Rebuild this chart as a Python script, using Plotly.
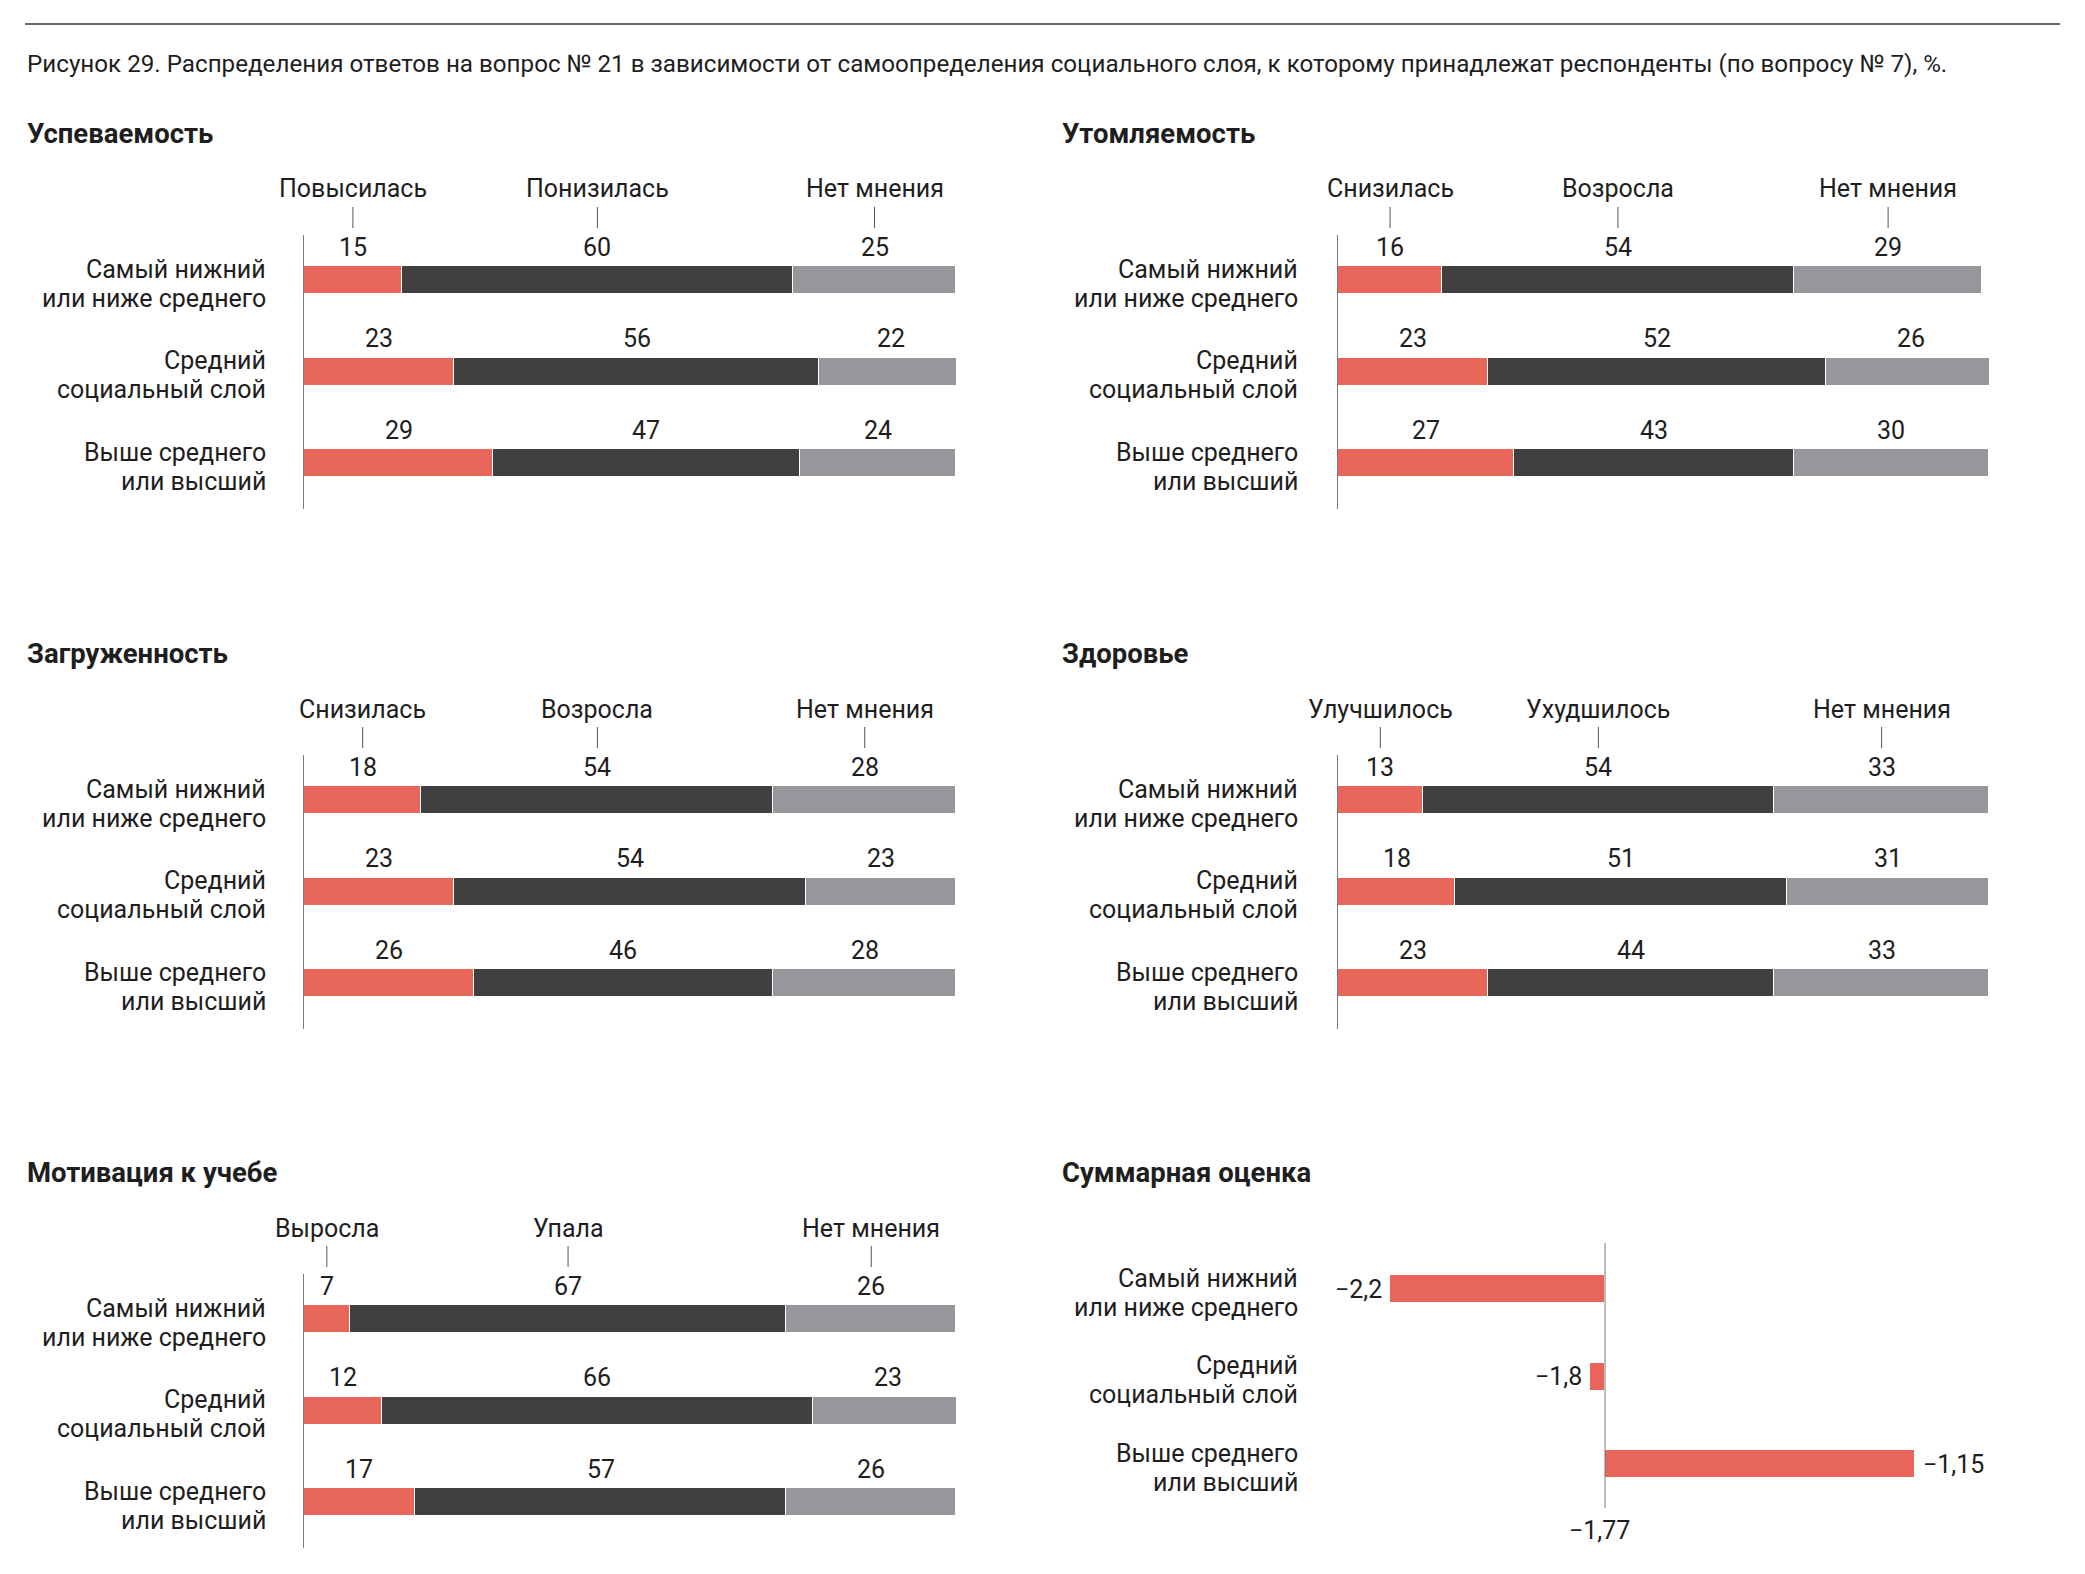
import plotly.graph_objects as go

W, H = 2085, 1574

# ---------------- data ----------------
categories = ["Самый нижний<br>или ниже среднего",
              "Средний<br>социальный слой",
              "Выше среднего<br>или высший"]

caption = ("Рисунок 29. Распределения ответов на вопрос № 21 в зависимости от самоопределения "
           "социального слоя, к которому принадлежат респонденты (по вопросу № 7), %.")

uspev_title = "Успеваемость"
uspev_answers = ["Повысилась", "Понизилась", "Нет мнения"]
uspev_first = [15, 23, 29]
uspev_second = [60, 56, 47]
uspev_none = [25, 22, 24]

utoml_title = "Утомляемость"
utoml_answers = ["Снизилась", "Возросла", "Нет мнения"]
utoml_first = [16, 23, 27]
utoml_second = [54, 52, 43]
utoml_none = [29, 26, 30]

zagr_title = "Загруженность"
zagr_answers = ["Снизилась", "Возросла", "Нет мнения"]
zagr_first = [18, 23, 26]
zagr_second = [54, 54, 46]
zagr_none = [28, 23, 28]

zdor_title = "Здоровье"
zdor_answers = ["Улучшилось", "Ухудшилось", "Нет мнения"]
zdor_first = [13, 18, 23]
zdor_second = [54, 51, 44]
zdor_none = [33, 31, 33]

motiv_title = "Мотивация к учебе"
motiv_answers = ["Выросла", "Упала", "Нет мнения"]
motiv_first = [7, 12, 17]
motiv_second = [67, 66, 57]
motiv_none = [26, 23, 26]

summ_title = "Суммарная оценка"
summ_values = [-2.2, -1.8, -1.15]
summ_baseline = -1.77

# ---------------- style ----------------
FONT = "Roboto, 'Noto Sans', sans-serif"
TXT = "#1e1e1e"
RED = "#E8665A"
DARK = "#404040"
GRAY = "#97979B"
AXIS = "#7a7a7a"
seg_colors = [RED, DARK, GRAY]
FS = 25
FS_TITLE = 27.5


def px(x):
    return x / W


def py(y):
    return 1 - y / H


fig = go.Figure()
annotations = []
shapes = []

# top rule and caption
shapes.append(dict(type="line", xref="paper", yref="paper", x0=px(25), x1=px(2060),
                   y0=py(24), y1=py(24), line=dict(color="#333333", width=1.5)))
annotations.append(dict(text=caption, xref="paper", yref="paper", x=px(25), y=py(64),
                        xanchor="left", yanchor="middle", showarrow=False,
                        font=dict(size=24.2, color=TXT, family=FONT)))

# panel geometry (pixels)
col_geo = {
    "L": dict(title_x=25, label_r=268, ax0=304, ax1=956),
    "R": dict(title_x=1060, label_r=1300, ax0=1338, ax1=1989),
}
row_offsets = [0, 520, 1039]

stacked_panels = [
    ("L", 0, uspev_title, uspev_answers, [uspev_first, uspev_second, uspev_none]),
    ("R", 0, utoml_title, utoml_answers, [utoml_first, utoml_second, utoml_none]),
    ("L", 1, zagr_title, zagr_answers, [zagr_first, zagr_second, zagr_none]),
    ("R", 1, zdor_title, zdor_answers, [zdor_first, zdor_second, zdor_none]),
    ("L", 2, motiv_title, motiv_answers, [motiv_first, motiv_second, motiv_none]),
]

rows_idx = [0, 1, 2]
layout_axes = {}


def add_category_labels(x_right, ya):
    for r in rows_idx:
        line1, line2 = categories[r].split("<br>")
        for txt, shift in ((line1, 11), (line2, -18)):
            annotations.append(dict(text=txt, xref="paper", yref=ya,
                                    x=px(x_right), y=r, yshift=shift,
                                    xanchor="right", yanchor="middle", align="right",
                                    showarrow=False,
                                    font=dict(size=FS, color=TXT, family=FONT)))


for i, (col, prow, title, answers, series) in enumerate(stacked_panels, start=1):
    g = col_geo[col]
    off = row_offsets[prow]
    top, bottom = 235 + off, 509 + off
    r0, sp = 280 + off, 91.7
    xa = "x" if i == 1 else f"x{i}"
    ya = "y" if i == 1 else f"y{i}"
    xkey = "xaxis" if i == 1 else f"xaxis{i}"
    ykey = "yaxis" if i == 1 else f"yaxis{i}"

    for k, vals in enumerate(series):
        fig.add_trace(go.Bar(
            x=vals, y=rows_idx, orientation="h", xaxis=xa, yaxis=ya,
            marker=dict(color=seg_colors[k], line=dict(color="white", width=1.5)),
            width=28 / sp, showlegend=False, hoverinfo="skip"))

    layout_axes[xkey] = dict(domain=[px(g["ax0"]), px(g["ax1"])], range=[0, 100],
                             visible=False, fixedrange=True, anchor=ya)
    layout_axes[ykey] = dict(domain=[py(bottom), py(top)],
                             range=[2 + (bottom - (r0 + 2 * sp)) / sp, -(r0 - top) / sp],
                             showline=True, linecolor=AXIS, linewidth=1,
                             showticklabels=False, ticks="", showgrid=False,
                             zeroline=False, fixedrange=True, anchor=xa)

    # value labels centred on each segment
    for r in rows_idx:
        cum = 0
        for k, vals in enumerate(series):
            v = vals[r]
            annotations.append(dict(text=str(v), xref=xa, yref=ya, x=cum + v / 2, y=r,
                                    yshift=33, xanchor="center", yanchor="middle",
                                    showarrow=False,
                                    font=dict(size=FS, color=TXT, family=FONT)))
            cum += v

    # answer headers with tick lines above first row segments
    cum = 0
    for k, vals in enumerate(series):
        c = cum + vals[0] / 2
        cum += vals[0]
        annotations.append(dict(text=answers[k], xref=xa, yref="paper", x=c, y=py(189 + off),
                                xanchor="center", yanchor="middle", showarrow=False,
                                font=dict(size=FS, color=TXT, family=FONT)))
        shapes.append(dict(type="line", xref=xa, yref="paper", x0=c, x1=c,
                           y0=py(207 + off), y1=py(228 + off),
                           line=dict(color="#555555", width=1)))

    add_category_labels(g["label_r"], ya)

    # panel title
    annotations.append(dict(text=f"<b>{title}</b>", xref="paper", yref="paper",
                            x=px(g["title_x"]), y=py(133 + off), xanchor="left",
                            yanchor="middle", showarrow=False,
                            font=dict(size=FS_TITLE, color=TXT, family=FONT)))

# ---------------- summary panel ----------------
i = 6
g = col_geo["R"]
off = row_offsets[2]
top, bottom = 1243, 1508
r0, sp = 1289, 87.5
base_px, ppu = 1605, 500.0
xa, ya = f"x{i}", f"y{i}"

fig.add_trace(go.Bar(
    x=[v - summ_baseline for v in summ_values], y=rows_idx, base=summ_baseline,
    orientation="h", xaxis=xa, yaxis=ya,
    marker=dict(color=RED, line=dict(color="white", width=1.5)),
    width=28 / sp, showlegend=False, hoverinfo="skip"))

layout_axes[f"xaxis{i}"] = dict(
    domain=[px(g["ax0"]), px(g["ax1"])],
    range=[summ_baseline - (base_px - g["ax0"]) / ppu, summ_baseline + (g["ax1"] - base_px) / ppu],
    visible=False, fixedrange=True, anchor=ya)
layout_axes[f"yaxis{i}"] = dict(domain=[py(bottom), py(top)],
                                range=[2 + (bottom - (r0 + 2 * sp)) / sp, -(r0 - top) / sp],
                                visible=False, fixedrange=True, anchor=xa)

shapes.append(dict(type="line", xref=xa, yref="paper", x0=summ_baseline, x1=summ_baseline,
                   y0=py(bottom), y1=py(top), line=dict(color=AXIS, width=1)))


def fmt(v):
    s = f"{abs(v):g}".replace(".", ",")
    return ("\u2212" if v < 0 else "") + s


for r, v in enumerate(summ_values):
    left = v < summ_baseline
    annotations.append(dict(text=fmt(v), xref=xa, yref=ya, x=v, y=r,
                            xshift=-6 if left else 6,
                            xanchor="right" if left else "left", yanchor="middle",
                            showarrow=False, font=dict(size=FS, color=TXT, family=FONT)))

annotations.append(dict(text=fmt(summ_baseline), xref=xa, yref="paper", x=summ_baseline,
                        y=py(1530), xanchor="center", yanchor="middle", xshift=-6,
                        showarrow=False, font=dict(size=FS, color=TXT, family=FONT)))

add_category_labels(g["label_r"], ya)

annotations.append(dict(text=f"<b>{summ_title}</b>", xref="paper", yref="paper",
                        x=px(g["title_x"]), y=py(133 + off), xanchor="left",
                        yanchor="middle", showarrow=False,
                        font=dict(size=FS_TITLE, color=TXT, family=FONT)))

fig.update_layout(
    width=W, height=H,
    margin=dict(l=0, r=0, t=0, b=0),
    paper_bgcolor="white", plot_bgcolor="rgba(0,0,0,0)",
    barmode="stack", bargap=0,
    showlegend=False,
    font=dict(family=FONT, color=TXT),
    annotations=annotations, shapes=shapes,
    **layout_axes,
)

fig.write_html("out.html", config={"displayModeBar": False})
